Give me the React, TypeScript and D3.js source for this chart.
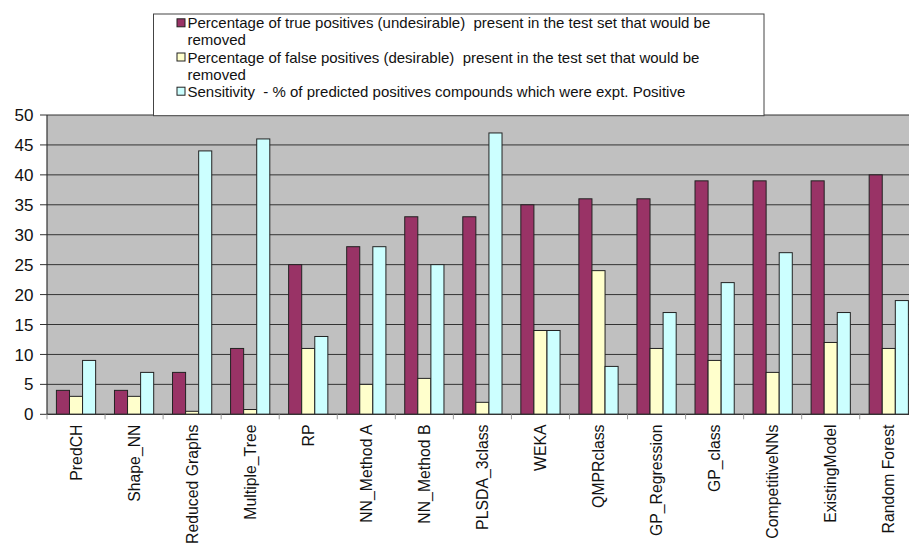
import React from 'react';
import * as d3 from 'd3';

// Model names along the x axis
const categories = [
  'PredCH',
  'Shape_NN',
  'Reduced Graphs',
  'Multiple_Tree',
  'RP',
  'NN_Method A',
  'NN_Method B',
  'PLSDA_3class',
  'WEKA',
  'QMPRclass',
  'GP_Regression',
  'GP_class',
  'CompetitiveNNs',
  'ExistingModel',
  'Random Forest',
];

// Series values (%)
const truePositives = [4, 4, 7, 11, 25, 28, 33, 33, 35, 36, 36, 39, 39, 39, 40];
const falsePositives = [3, 3, 0.5, 0.8, 11, 5, 6, 2, 14, 24, 11, 9, 7, 12, 11];
const sensitivity = [9, 7, 44, 46, 13, 28, 25, 47, 14, 8, 17, 22, 27, 17, 19];

const yTicks = d3.range(0, 51, 5);

// Legend text, one array of lines per series
const seriesLabels = [
  ['Percentage of true positives (undesirable)  present in the test set that would be', 'removed'],
  ['Percentage of false positives (desirable)  present in the test set that would be', 'removed'],
  ['Sensitivity  - % of predicted positives compounds which were expt. Positive'],
];
const seriesColors = ['#993366', '#FFFFCC', '#CCFFFF'];
const seriesValues = [truePositives, falsePositives, sensitivity];
const seriesKeys = ['tp', 'fp', 'sens'];

const W = 909;
const H = 545;
const FONT = '"Liberation Sans", Arial, sans-serif';

export default function App() {
  const left = 47;
  const right = 917.8;
  const top = 115;
  const bottom = 414.3;

  const x = d3.scaleBand<string>().domain(categories).range([left, right]).padding(0);
  const xs = d3
    .scaleBand<string>()
    .domain(seriesKeys)
    .range([0, x.bandwidth()])
    .paddingInner(0)
    .paddingOuter(0.72);
  const y = d3.scaleLinear().domain([0, 50]).range([bottom, top]);

  const lineH = 17.1;
  let lineIdx = 0;
  const legendItems = seriesLabels.map((lines, i) => {
    const start = lineIdx;
    lineIdx += lines.length;
    return { lines, i, start };
  });

  return (
    <svg
      width={W}
      height={H}
      style={{ position: 'absolute', left: 0, top: 0, background: '#fff', overflow: 'hidden' }}
      fontFamily={FONT}
    >
      <rect x={0} y={0} width={W} height={H} fill="#fff" />
      {/* plot area */}
      <rect x={left} y={top} width={right - left} height={bottom - top} fill="#C0C0C0" />
      {yTicks.map((t) => (
        <line key={'g' + t} x1={left} x2={right} y1={y(t)} y2={y(t)} stroke="#333" strokeWidth={1} />
      ))}

      {/* bars */}
      {categories.map((c, ci) => (
        <g key={c} transform={`translate(${x(c)},0)`}>
          {seriesValues.map((vals, si) => (
            <rect
              key={seriesKeys[si]}
              x={xs(seriesKeys[si])}
              y={y(vals[ci])}
              width={xs.bandwidth()}
              height={y(0) - y(vals[ci])}
              fill={seriesColors[si]}
              stroke="#222"
              strokeWidth={1}
            />
          ))}
        </g>
      ))}

      {/* y axis */}
      <line x1={left} x2={left} y1={top} y2={bottom} stroke="#333" strokeWidth={1.2} />
      {yTicks.map((t) => (
        <g key={'t' + t}>
          <line x1={left - 7} x2={left} y1={y(t)} y2={y(t)} stroke="#333" />
          <text x={33.5} y={y(t)} dy="0.36em" textAnchor="end" fontSize={17} fill="#111">
            {t}
          </text>
        </g>
      ))}

      {/* x axis */}
      <line x1={left} x2={right} y1={bottom} y2={bottom} stroke="#333" strokeWidth={1.2} />
      {categories.map((c, ci) => (
        <line
          key={'xt' + c}
          x1={left + ci * x.step()}
          x2={left + ci * x.step()}
          y1={bottom}
          y2={bottom + 5}
          stroke="#999"
        />
      ))}
      {categories.map((c) => {
        const cx = (x(c) as number) + x.bandwidth() / 2;
        return (
          <text
            key={'xl' + c}
            transform={`translate(${cx},424.5) rotate(-90)`}
            textAnchor="end"
            dy="0.36em"
            fontSize={15.8}
            fill="#111"
          >
            {c}
          </text>
        );
      })}

      {/* legend */}
      <rect x={153.5} y={14} width={610.5} height={101.7} fill="#fff" stroke="#444" strokeWidth={1} />
      {legendItems.map(({ lines, i, start }) => (
        <g key={'lg' + i}>
          <rect
            x={177}
            y={28.3 + start * lineH - 9.5}
            width={8}
            height={8}
            fill={seriesColors[i]}
            stroke="#222"
          />
          {lines.map((ln, k) => (
            <text
              key={k}
              x={187.5}
              y={28.3 + (start + k) * lineH}
              fontSize={15}
              fill="#111"
              style={{ whiteSpace: 'pre' }}
            >
              {ln}
            </text>
          ))}
        </g>
      ))}
    </svg>
  );
}
